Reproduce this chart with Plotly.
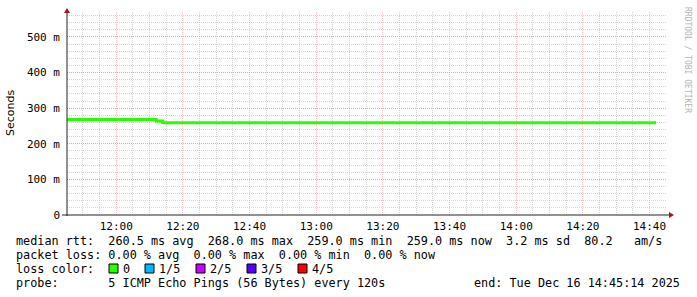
import plotly.graph_objects as go
import pandas as pd

# ---- data ----
step_seconds = 120
first_step_start = "2025-12-16 11:44:00"
median_rtt = [
    0.268, 0.268, 0.268, 0.268, 0.268, 0.268, 0.268, 0.268, 0.268, 0.268,
    0.268, 0.268, 0.268, 0.268, 0.264,
    0.259, 0.259, 0.259, 0.259, 0.259, 0.259, 0.259, 0.259, 0.259, 0.259,
    0.259, 0.259, 0.259, 0.259, 0.259, 0.259, 0.259, 0.259, 0.259, 0.259,
    0.259, 0.259, 0.259, 0.259, 0.259, 0.259, 0.259, 0.259, 0.259, 0.259,
    0.259, 0.259, 0.259, 0.259, 0.259, 0.259, 0.259, 0.259, 0.259, 0.259,
    0.259, 0.259, 0.259, 0.259, 0.259, 0.259, 0.259, 0.259, 0.259, 0.259,
    0.259, 0.259, 0.259, 0.259, 0.259, 0.259, 0.259, 0.259, 0.259, 0.259,
    0.259, 0.259, 0.259, 0.259, 0.259, 0.259, 0.259, 0.259, 0.259, 0.259,
    0.259, 0.259, 0.259, 0.259,
]
y_tick_vals = [0, 0.1, 0.2, 0.3, 0.4, 0.5]
y_tick_text = ["0", "100 m", "200 m", "300 m", "400 m", "500 m"]
x_start = "2025-12-16 11:45:14"
x_end = "2025-12-16 14:45:14"

median_line = "median rtt:  260.5 ms avg  268.0 ms max  259.0 ms min  259.0 ms now  3.2 ms sd  80.2   am/s"
loss_line = "packet loss: 0.00 % avg  0.00 % max  0.00 % min  0.00 % now"
loss_labels = ["0", "1/5", "2/5", "3/5", "4/5"]
loss_colors = ["#26ff00", "#00b8ff", "#cc00ff", "#5500ff", "#ff0000"]
probe_line = "probe:       5 ICMP Echo Pings (56 Bytes) every 120s"
end_text = "end: Tue Dec 16 14:45:14 2025"

# ---- geometry ----
W, H = 697, 297
L, R, T, B = 67, 667, 12, 215
PW, PH = R - L, B - T


def px(x):
    return (x - L) / PW


def py(y):
    return (B - y) / PH


times = pd.date_range(first_step_start, periods=len(median_rtt) + 1, freq=f"{step_seconds}s")
yvals = median_rtt + [median_rtt[-1]]

MONO = "DejaVu Sans Mono"
LEG = 11.8
fig = go.Figure()
fig.add_trace(go.Scatter(
    x=times, y=yvals, mode="lines", line=dict(color="#26ff00", width=3, shape="hv"),
    hoverinfo="skip", showlegend=False,
))

MINOR = "rgba(160,160,160,0.45)"
MAJOR = "rgba(230,120,120,0.45)"
fig.update_layout(
    width=W, height=H, margin=dict(l=L, r=W - R, t=T, b=H - B),
    paper_bgcolor="white", plot_bgcolor="white", showlegend=False,
    font=dict(family=MONO, size=LEG, color="#000"),
)
fig.update_xaxes(
    type="date", range=[x_start, x_end], tickformat="%H:%M",
    tick0="2025-12-16 12:00:00", dtick=20 * 60 * 1000,
    showgrid=True, gridcolor=MAJOR, griddash="1px,1px", gridwidth=1,
    minor=dict(dtick=5 * 60 * 1000, showgrid=True, gridcolor=MINOR, griddash="1px,1px", gridwidth=1),
    showline=False, zeroline=False, ticks="", ticklabelstandoff=3,
    tickfont=dict(family=MONO, size=11, color="#000"),
)
fig.update_yaxes(
    range=[0, 0.57], tickvals=y_tick_vals, ticktext=y_tick_text,
    showgrid=True, gridcolor=MAJOR, griddash="1px,1px", gridwidth=1,
    minor=dict(dtick=0.02, showgrid=True, gridcolor=MINOR, griddash="1px,1px", gridwidth=1),
    showline=False, zeroline=False, ticks="", ticklabelstandoff=6,
    tickfont=dict(family=MONO, size=11, color="#000"),
)

shapes = []
# axes
shapes.append(dict(type="line", xref="paper", yref="paper", x0=px(62), x1=px(669), y0=0, y1=0,
                   line=dict(color="#222", width=1)))
shapes.append(dict(type="line", xref="paper", yref="paper", x0=0, x1=0, y0=py(216), y1=py(12),
                   line=dict(color="#222", width=1)))
# arrows
ax, ay = 669, 215
shapes.append(dict(type="path", xref="paper", yref="paper",
                   path=f"M {px(ax)} {py(ay-3)} L {px(ax+5)} {py(ay)} L {px(ax)} {py(ay+3)} Z",
                   fillcolor="#a01818", line=dict(color="#a01818", width=0)))
bx, by = 67, 13
shapes.append(dict(type="path", xref="paper", yref="paper",
                   path=f"M {px(bx-3)} {py(by)} L {px(bx)} {py(by-5)} L {px(bx+3)} {py(by)} Z",
                   fillcolor="#a01818", line=dict(color="#a01818", width=0)))

ann = []


def text_at(t, x, y, anchor="left", **kw):
    ann.append(dict(text=t.replace(" ", "&nbsp;"), x=px(x), y=py(y), xref="paper", yref="paper",
                    xanchor=anchor, yanchor="middle", showarrow=False,
                    font=dict(family=MONO, size=LEG, color="#000"), **kw))


text_at(median_line, 14, 241)
text_at(loss_line, 14, 255)
text_at("loss color:", 14, 269)
sq_x = [109, 145, 196, 247, 298]
for i, (lab, col) in enumerate(zip(loss_labels, loss_colors)):
    shapes.append(dict(type="rect", xref="paper", yref="paper",
                       x0=px(sq_x[i]), x1=px(sq_x[i] + 9), y0=py(273), y1=py(264),
                       fillcolor=col, line=dict(color="#000", width=1)))
    text_at(lab, sq_x[i] + 12, 269)
text_at(probe_line, 14, 283)
text_at(end_text, 682, 283, anchor="right")

# y title
ann.append(dict(text="Seconds", x=px(11), y=py(113), xref="paper", yref="paper",
                xanchor="center", yanchor="middle", showarrow=False, textangle=-90,
                font=dict(family="DejaVu Sans", size=11, color="#000")))
# watermark
ann.append(dict(text="RRDTOOL / TOBI OETIKER", x=px(688), y=py(60), xref="paper", yref="paper",
                xanchor="center", yanchor="middle", showarrow=False, textangle=90,
                font=dict(family=MONO, size=8, color="#b4b4b4")))

fig.update_layout(shapes=shapes, annotations=ann)
fig.write_html("out.html")
